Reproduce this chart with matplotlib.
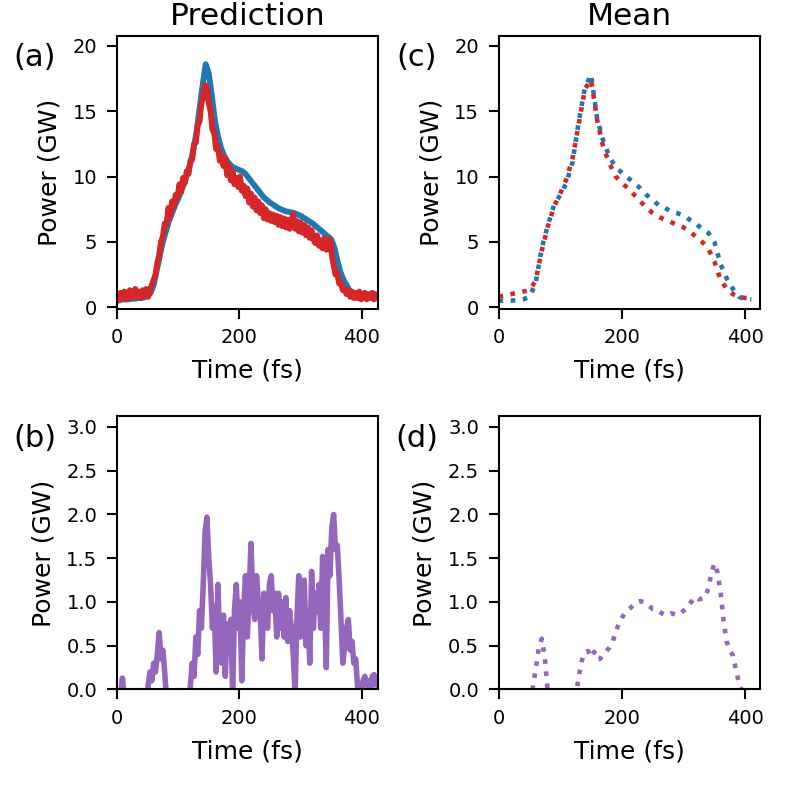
import numpy as np
import matplotlib
matplotlib.use("Agg")
import matplotlib.pyplot as plt

# Time grids (fs)
t_noisy = np.arange(0, 427, 3)     # prediction, noisy traces
t_smooth = np.arange(0, 426, 5)    # prediction, smooth trace
t_mean = np.arange(0, 411, 10)     # mean traces
t_mean_diff = np.arange(0, 411, 5) # mean difference

# (a) prediction, smooth (blue) and noisy (red), GW
pred_blue = [
    0.55, 0.55, 0.6, 0.6, 0.6, 0.65, 0.65, 0.7, 0.7, 0.75,
    0.85, 1.1, 1.7, 2.8, 3.9, 5.0, 5.8, 6.6, 7.2, 7.8,
    8.3, 8.9, 9.5, 10.2, 11.0, 12.1, 13.4, 15.2, 17.0, 18.6,
    17.9, 16.2, 14.3, 13.1, 12.2, 11.6, 11.2, 10.9, 10.7, 10.6,
    10.5, 10.4, 10.2, 9.9, 9.6, 9.3, 9.0, 8.7, 8.4, 8.2,
    8.0, 7.85, 7.7, 7.55, 7.45, 7.35, 7.3, 7.25, 7.2, 7.1,
    7.0, 6.85, 6.7, 6.55, 6.4, 6.2, 6.0, 5.8, 5.6, 5.4,
    5.2, 4.6, 3.6, 2.7, 2.1, 1.7, 1.3, 1.0, 0.85, 0.8,
    0.8, 0.8, 0.8, 0.8, 0.8, 0.8,
]
pred_red = [
    1.0, 0.5, 1.1, 0.7, 1.2, 0.6, 1.0, 1.3, 0.7, 1.1,
    1.4, 0.8, 1.2, 0.7, 1.3, 0.9, 1.4, 0.8, 1.3, 1.7,
    2.1, 2.5, 3.4, 4.0, 5.0, 5.4, 6.4, 6.3, 7.6, 6.9,
    8.1, 7.7, 8.6, 8.4, 9.4, 8.8, 9.9, 9.5, 10.4, 10.2,
    11.2, 11.3, 12.5, 12.6, 13.9, 14.2, 15.6, 16.1, 17.0, 16.8,
    15.6, 15.0, 13.6, 13.3, 12.1, 12.3, 11.2, 11.6, 10.8, 11.4,
    10.1, 10.8, 9.7, 10.4, 9.4, 9.9, 9.2, 10.0, 8.9, 9.3,
    8.5, 9.1, 8.0, 8.7, 7.7, 8.4, 7.4, 8.1, 7.2, 7.8,
    6.8, 7.5, 6.7, 7.2, 6.6, 7.1, 6.5, 7.0, 6.3, 6.9,
    6.2, 6.8, 6.1, 6.7, 6.0, 6.6, 7.1, 6.0, 6.6, 5.8,
    6.5, 5.7, 6.3, 5.5, 6.1, 5.3, 5.9, 5.2, 4.9, 5.5,
    4.7, 5.1, 4.5, 5.3, 4.4, 4.8, 5.2, 4.0, 3.2, 2.5,
    2.6, 1.8, 1.9, 1.3, 1.4, 1.0, 1.3, 0.8, 1.2, 0.7,
    1.1, 0.7, 1.2, 0.6, 1.0, 1.1, 0.6, 1.0, 0.7, 1.1,
    0.6, 1.0, 0.8,
]

# (b) prediction difference, GW (negative parts fall below the axis)
pred_diff = [
    -0.3, -0.2, -0.05, 0.13, -0.1, -0.4, -0.3, -0.5, -0.2, -0.4,
    -0.6, -0.3, -0.5, -0.2, -0.4, -0.3, -0.2, 0.05, 0.2, 0.1,
    0.3, 0.2, 0.4, 0.65, 0.35, 0.45, 0.2, -0.1, -0.3, -0.5,
    -0.4, -0.6, -0.3, -0.5, -0.7, -0.4, -0.6, -0.3, -0.5, -0.2,
    0.05, 0.3, 0.15, 0.6, 0.4, 0.9, 0.7, 1.2, 1.8, 1.97,
    1.5, 1.2, 0.7, 0.95, 0.2, 1.2, 0.5, 0.3, 0.85, 0.15,
    0.75, 0.45, 0.8, -0.05, 0.9, 1.2, 0.7, 1.0, 0.1, 0.9,
    1.3, 0.6, 1.1, 1.67, 1.0, 0.8, 1.3, 1.0, 0.9, 0.35,
    1.1, 1.05, 0.7, 1.2, 1.3, 0.9, 1.1, 0.6, 1.1, 0.7,
    1.0, 0.6, 1.05, 0.55, 0.9, 0.7, 0.4, -0.05, 0.8, 1.3,
    0.6, 0.8, 1.25, 0.5, 0.9, 0.3, 1.35, 0.7, 1.1, 0.9,
    1.2, 0.7, 1.52, 1.0, 0.25, 1.6, 1.3, 1.85, 2.0, 1.6,
    1.65, 1.25, 0.8, 0.3, 0.5, 0.7, 0.8, 0.45, 0.55, 0.3,
    0.35, 0.05, -0.2, -0.1, 0.1, 0.15, 0.05, 0.1, -0.05, 0.15,
    0.17, 0.05, 0.1,
]

# (c) mean traces, GW
mean_blue = [
    0.5, 0.5, 0.5, 0.55, 0.6, 0.8, 1.8, 4.5, 6.3, 7.8,
    8.6, 9.5, 11.1, 14.2, 16.8, 17.8, 14.4, 12.7, 11.5, 10.7,
    10.3, 9.9, 9.5, 9.1, 8.6, 8.2, 7.8, 7.6, 7.3, 7.2,
    7.0, 6.7, 6.4, 6.0, 5.7, 5.0, 3.3, 2.2, 1.4, 0.8,
    0.6, 0.6,
]
mean_red = [
    0.8, 0.9, 1.0, 1.1, 1.2, 1.3, 2.0, 4.3, 6.2, 7.7,
    8.7, 9.8, 11.4, 14.0, 16.7, 17.4, 14.3, 12.2, 11.0, 10.0,
    9.5, 9.1, 8.6, 8.1, 7.6, 7.2, 6.9, 6.7, 6.5, 6.3,
    6.1, 5.8, 5.4, 5.0, 4.5, 3.5, 2.1, 1.4, 1.0, 0.8,
    0.7, 0.7,
]

# (d) mean difference, GW
mean_diff = [
    -0.3, -0.4, -0.5, -0.5, -0.5, -0.55, -0.6, -0.6, -0.6, -0.6,
    -0.4, 0.0, 0.22, 0.46, 0.58, 0.36, -0.05, -0.4, -0.6, -0.8,
    -0.9, -0.8, -0.7, -0.5, -0.3, -0.1, 0.15, 0.33, 0.42, 0.44,
    0.37, 0.43, 0.34, 0.35, 0.41, 0.44, 0.48, 0.54, 0.66, 0.75,
    0.82, 0.87, 0.91, 0.94, 0.97, 1.0, 1.01, 1.0, 0.98, 0.95,
    0.92, 0.92, 0.89, 0.87, 0.85, 0.85, 0.87, 0.86, 0.85, 0.87,
    0.9, 0.93, 0.98, 1.02, 1.06, 1.03, 1.04, 1.05, 1.15, 1.32,
    1.44, 1.34, 1.12, 0.78, 0.55, 0.45, 0.39, 0.23, 0.07, -0.02,
    -0.15, -0.2, -0.2,
]

plt.rcParams.update({
    "font.size": 18,
    "xtick.labelsize": 14,
    "ytick.labelsize": 14,
    "axes.linewidth": 1.5,
    "xtick.major.size": 7,
    "ytick.major.size": 7,
    "xtick.major.width": 1.5,
    "ytick.major.width": 1.5,
    "xtick.major.pad": 7,
    "ytick.major.pad": 7,
})

fig, axs = plt.subplots(2, 2, figsize=(7.9, 7.98), dpi=100)
plt.subplots_adjust(left=0.148, right=0.962, bottom=0.136, top=0.955,
                    wspace=0.46, hspace=0.394)

blue = "#1f77b4"
red = "#d62728"
purple = "#9467bd"

# Prediction column
axs[0, 0].plot(t_smooth, pred_blue, color=blue, lw=4.2)
axs[0, 0].plot(t_noisy, pred_red, color=red, lw=4.2)
axs[1, 0].plot(t_noisy, pred_diff, color=purple, lw=4.0)

# Mean column (dotted)
axs[0, 1].plot(t_mean, mean_blue, ":", color=blue, lw=3.3)
axs[0, 1].plot(t_mean, mean_red, ":", color=red, lw=3.3)
axs[1, 1].plot(t_mean_diff, mean_diff, ":", color=purple, lw=3.3)

axs[0, 0].set_title("Prediction", pad=8, fontsize=22.5)
axs[0, 1].set_title("Mean", pad=8, fontsize=22.5)

for ax in axs[0]:
    ax.set_ylim(-0.13, 20.76)
    ax.set_yticks([0, 5, 10, 15, 20])
for ax in axs[1]:
    ax.set_ylim(0, 3.12)
    ax.set_yticks([0.0, 0.5, 1.0, 1.5, 2.0, 2.5, 3.0])
    ax.set_yticklabels(["0.0", "0.5", "1.0", "1.5", "2.0", "2.5", "3.0"])
for ax in axs[:, 0]:
    ax.set_xlim(0, 427)
for ax in axs[:, 1]:
    ax.set_xlim(0, 424)

for ax, lab in zip(axs.flat, ["(a)", "(c)", "(b)", "(d)"]):
    ax.set_xticks([0, 200, 400])
    ax.set_xlabel("Time (fs)", labelpad=8)
    ax.set_ylabel("Power (GW)", labelpad=8)
    ax.text(-0.314, 0.92, lab, transform=ax.transAxes, ha="center", va="center",
            fontsize=22)

plt.savefig("out.png", dpi=100)
